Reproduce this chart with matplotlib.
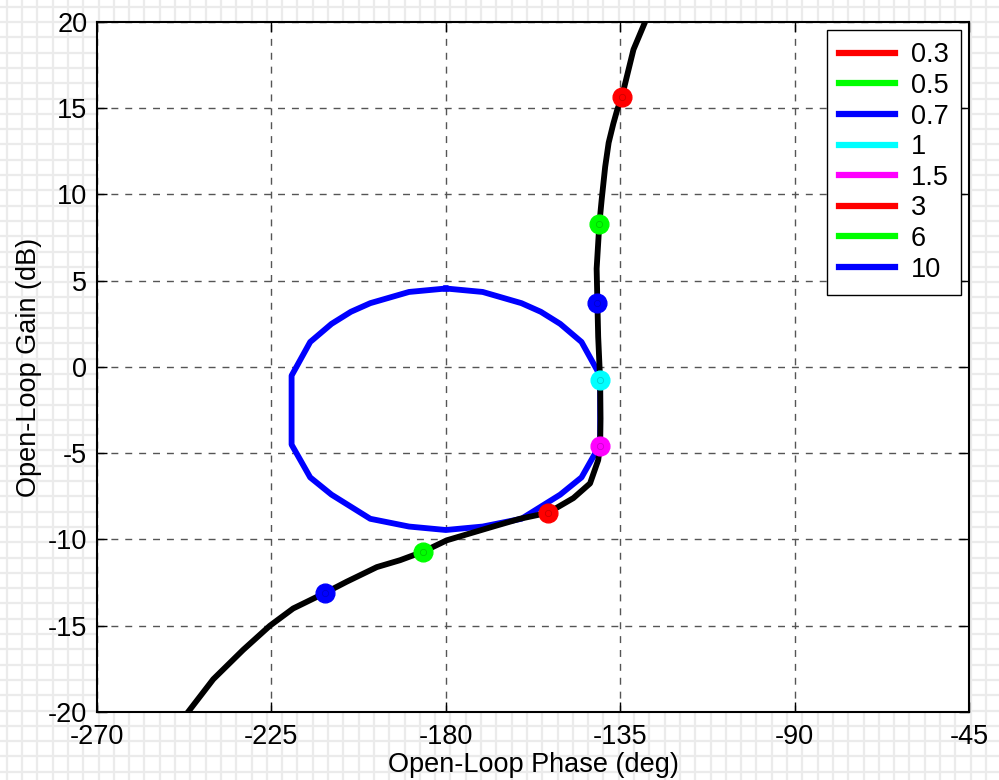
import matplotlib
matplotlib.use('Agg')
import matplotlib.pyplot as plt
from matplotlib.lines import Line2D
import numpy as np

plt.rcParams['font.family'] = ['Liberation Sans', 'DejaVu Sans']
plt.rcParams['axes.unicode_minus'] = False

# curva de malha aberta (fase em graus, ganho em dB)
fase_curva = [-246.5, -240.0, -232.3, -225.4, -219.4, -211.2, -205.6, -197.8, -191.8,
              -185.8, -179.8, -167.8, -160.9, -153.6, -147.1, -142.8, -140.7, -140.2,
              -140.1, -140.2, -140.7, -140.9, -141.1, -140.4, -139.8, -138.9, -138.0,
              -136.8, -135.8, -134.6, -131.6, -128.6]
ganho_curva = [-20.0, -18.1, -16.4, -15.0, -14.0, -13.1, -12.45, -11.6, -11.2,
               -10.7, -10.05, -9.25, -8.8, -8.45, -7.6, -6.75, -5.4, -4.6,
               -3.0, -0.75, 1.75, 3.7, 5.7, 8.3, 9.7, 11.6, 13.0,
               14.1, 14.9, 15.65, 18.4, 20.0]

# contorno fechado (azul)
fase_contorno = [-180.0, -170.5, -160.5, -155.5, -150.5, -145.0, -140.2, -140.2, -145.0,
                 -150.5, -155.5, -160.5, -170.5, -180.0, -189.5, -199.5, -204.5, -209.5,
                 -215.0, -219.8, -219.8, -215.0, -209.5, -204.5, -199.5, -189.5, -180.0]
ganho_contorno = [4.55, 4.35, 3.7, 3.2, 2.5, 1.45, -0.5, -4.5, -6.4,
                  -7.4, -8.1, -8.8, -9.25, -9.45, -9.25, -8.8, -8.1, -7.4,
                  -6.4, -4.5, -0.5, 1.45, 2.5, 3.2, 3.7, 4.35, 4.55]

# frequencias marcadas
freqs = ['0.3', '0.5', '0.7', '1', '1.5', '3', '6', '10']
cores = ['#ff0000', '#00ff00', '#0000ff', '#00ffff', '#ff00ff', '#ff0000', '#00ff00', '#0000ff']
fase_pontos = [-134.6, -140.4, -140.9, -140.2, -140.2, -153.6, -185.8, -211.2]
ganho_pontos = [15.65, 8.3, 3.7, -0.75, -4.6, -8.45, -10.7, -13.1]

xticks = [-270, -225, -180, -135, -90, -45]
yticks = [-20, -15, -10, -5, 0, 5, 10, 15, 20]

fig = plt.figure(figsize=(9.99, 7.8), dpi=100)

# fundo quadriculado
bg = fig.add_axes([0, 0, 1, 1], zorder=-1)
bg.set_xlim(0, 999)
bg.set_ylim(780, 0)
bg.set_xticks(np.arange(6.7, 999, 15.3))
bg.set_yticks(np.arange(6.7, 780, 15.3))
bg.grid(True, color='#ebebeb', lw=1.6)
bg.tick_params(length=0, labelbottom=False, labelleft=False)
for s in bg.spines.values():
    s.set_visible(False)

ax = fig.add_axes([0.0971, 0.0872, 0.873, 0.8846])
ax.plot(fase_contorno, ganho_contorno, color='#0000ff', lw=4.2, zorder=2)
ax.plot(fase_curva, ganho_curva, color='black', lw=4.2, zorder=3)
for f, g, c in zip(fase_pontos, ganho_pontos, cores):
    ax.plot(f, g, 'o', color=c, mec=c, ms=13.5, zorder=4)
    ax.plot(f, g, 'o', mfc='none', mec='#00000033', ms=4.5, mew=0.6, zorder=5)

ax.set_xlim(-270, -45)
ax.set_ylim(-20, 20)
ax.set_xticks(xticks)
ax.set_yticks(yticks)
ax.grid(True, color='#555555', lw=1, linestyle=(0, (5, 5)))
ax.tick_params(direction='in', length=7, width=1, top=True, right=True, labelsize=19.5)
ax.tick_params(axis='x', pad=9)
ax.tick_params(axis='y', pad=7)
for s in ax.spines.values():
    s.set_linewidth(1.5)

ax.set_xlabel('Open-Loop Phase (deg)', fontsize=19.5, labelpad=1)
ax.set_ylabel('Open-Loop Gain (dB)', fontsize=19.5, labelpad=4)

handles = [Line2D([0], [0], color=c, lw=4.5) for c in cores]
leg = ax.legend(handles, freqs, loc='upper right', fontsize=19.5, frameon=True, fancybox=False,
                edgecolor='black', framealpha=1, handlelength=2.05, handletextpad=0.6,
                labelspacing=0.17, borderaxespad=0.3, borderpad=0.45)
leg.get_frame().set_linewidth(1)

plt.savefig('out.png', dpi=100)
